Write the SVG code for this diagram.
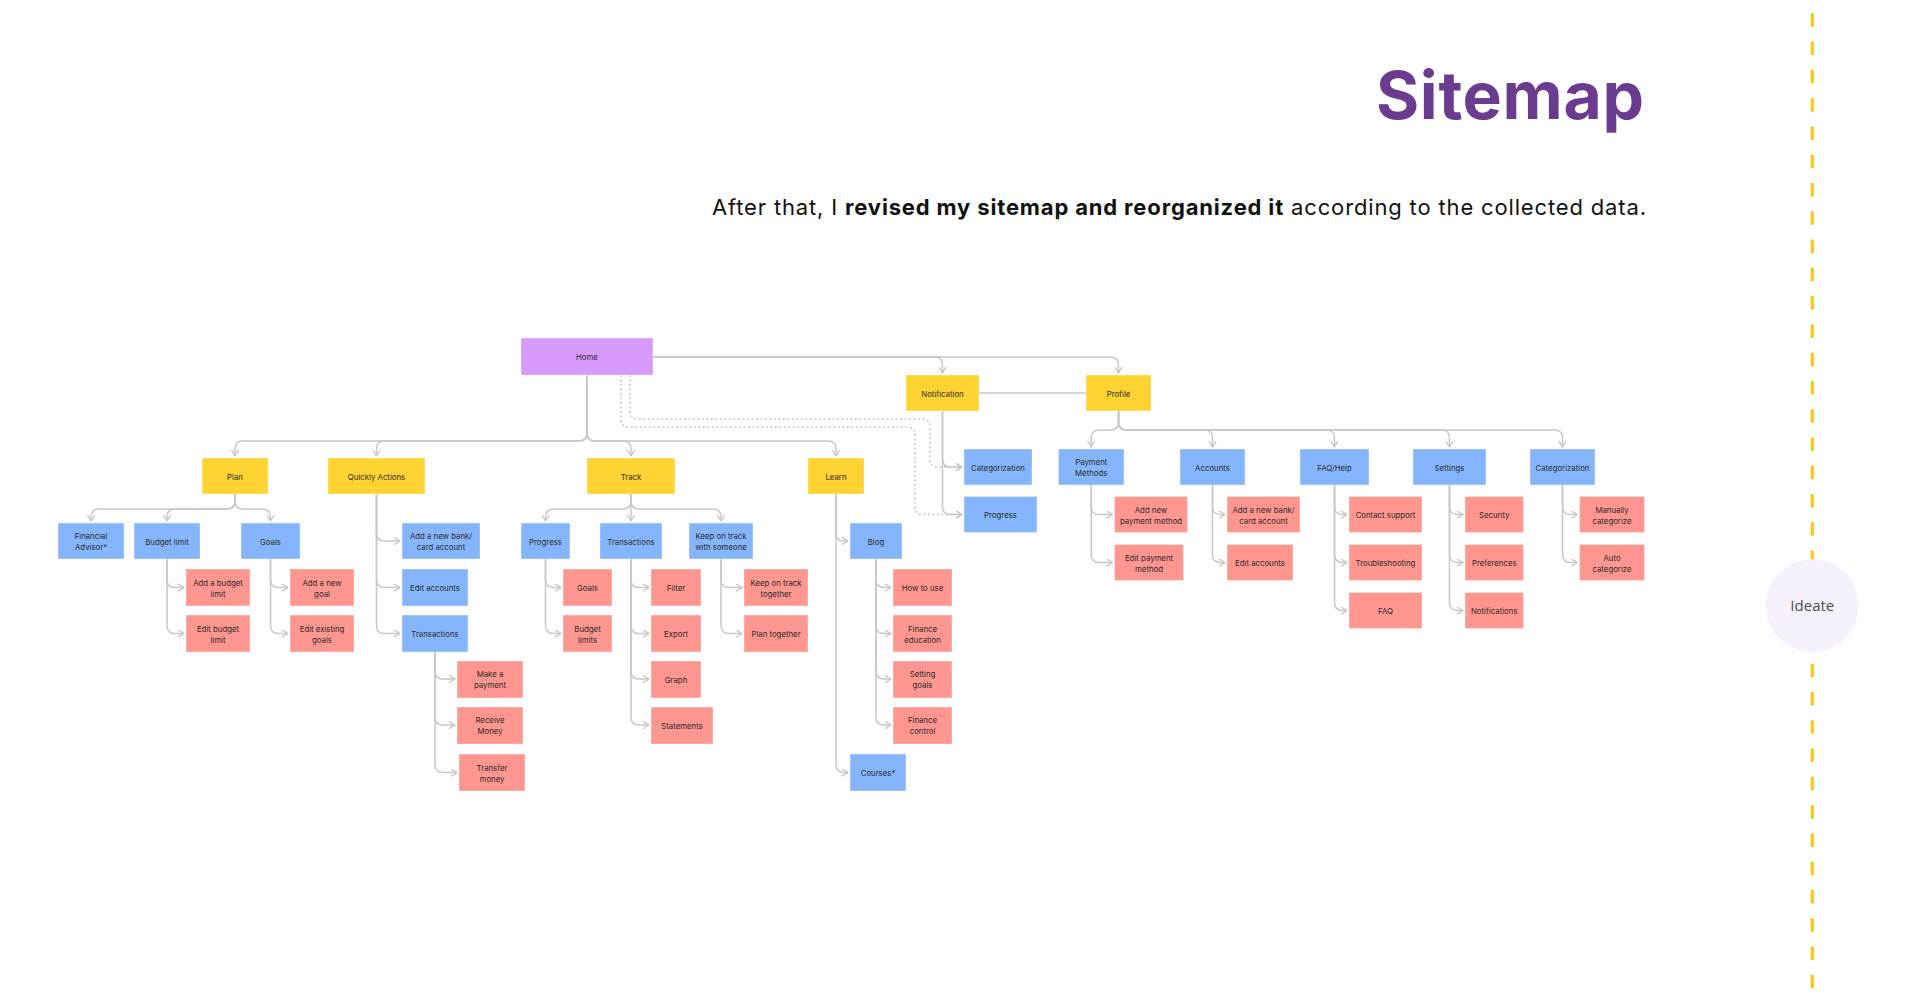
<svg xmlns="http://www.w3.org/2000/svg" width="1920" height="995" viewBox="0 0 1920 995">
<defs>
<marker id="arr" markerUnits="userSpaceOnUse" viewBox="0 0 10 10" refX="9" refY="5" markerWidth="8" markerHeight="8" orient="auto">
<path d="M2,0.8 L9,5 L2,9.2" fill="none" stroke="#C6C6C6" stroke-width="1.6" stroke-linecap="round" stroke-linejoin="round"/>
</marker>
<style>
.y{fill:#FFD332}
.b{fill:#85B6FD}
.p{fill:#FF968F}
.h{fill:#D89AFC}
rect{stroke:#ffffff;stroke-opacity:0.45;stroke-width:0.8}
.t{font-family:Inter,"Liberation Sans",sans-serif;font-size:7.8px;fill:#2c2c2c;text-anchor:middle;dominant-baseline:central}
.c{fill:none;stroke:#C8C8C8;stroke-width:1.5;marker-end:url(#arr)}
.cl{fill:none;stroke:#C8C8C8;stroke-width:1.5}
.d{fill:none;stroke:#C4C4C4;stroke-width:1.5;stroke-dasharray:2 2.5;marker-end:url(#arr)}
</style>
</defs>
<rect x="0" y="0" width="1920" height="995" fill="#ffffff" stroke="none"/>

<g id="header">
<text x="1644" y="119" text-anchor="end" font-family="Inter,'Liberation Sans',sans-serif" font-size="66" font-weight="700" fill="#6B3B8F" textLength="268" lengthAdjust="spacing">Sitemap</text>
<text x="712" y="215" font-family="Inter,'Liberation Sans',sans-serif" font-size="22" fill="#111111" textLength="934" lengthAdjust="spacing">After that, I <tspan font-weight="700">revised my sitemap and reorganized it</tspan> according to the collected data.</text>
</g>

<g id="timeline">
<line x1="1812.3" y1="13.3" x2="1812.3" y2="989" stroke="#F6C81A" stroke-width="3.2" stroke-dasharray="13.5 14.78"/>
<circle cx="1812.3" cy="605.7" r="46.5" fill="#F7F1FD"/>
<text x="1812.3" y="611" text-anchor="middle" font-family="'Open Sans',Inter,sans-serif" font-size="15" font-weight="500" fill="#4B4B4B">Ideate</text>
</g>

<g id="connectors">
<path class="c" d="M587,375 V433 Q587,441 579,441 H243 Q235,441 235,449 V456"/>
<path class="c" d="M587,375 V433 Q587,441 579,441 H384.5 Q376.5,441 376.5,449 V456"/>
<path class="c" d="M587,375 V433 Q587,441 595,441 H623 Q631,441 631,449 V456"/>
<path class="c" d="M587,375 V433 Q587,441 595,441 H828 Q836,441 836,449 V456"/>
<path class="c" d="M653,357 H934.5 Q942.5,357 942.5,365 V373"/>
<path class="c" d="M653,357 H1110.5 Q1118.5,357 1118.5,365 V373"/>
<path class="cl" d="M979,393 H1086"/>
<path class="c" d="M942.5,411 V459 Q942.5,467 950.5,467 H962"/>
<path class="c" d="M942.5,411 V506.5 Q942.5,514.5 950.5,514.5 H962"/>
<path class="d" d="M630,375 V411 Q630,419 638,419 H922 Q930,419 930,427 V459 Q930,467 938,467 H962"/>
<path class="d" d="M621,375 V419 Q621,427 629,427 H907 Q915,427 915,435 V506.5 Q915,514.5 923,514.5 H962"/>
<path class="c" d="M1118.5,411 V422 Q1118.5,430 1110.5,430 H1099.25 Q1091.25,430 1091.25,438 V447"/>
<path class="c" d="M1118.5,411 V422 Q1118.5,430 1126.5,430 H1204.5 Q1212.5,430 1212.5,438 V447"/>
<path class="c" d="M1118.5,411 V422 Q1118.5,430 1126.5,430 H1326.5 Q1334.5,430 1334.5,438 V447"/>
<path class="c" d="M1118.5,411 V422 Q1118.5,430 1126.5,430 H1441.5 Q1449.5,430 1449.5,438 V447"/>
<path class="c" d="M1118.5,411 V422 Q1118.5,430 1126.5,430 H1554.5 Q1562.5,430 1562.5,438 V447"/>
<path class="c" d="M235,494 V501 Q235,509 227,509 H99 Q91,509 91,517 V521"/>
<path class="c" d="M235,494 V501 Q235,509 227,509 H175 Q167,509 167,517 V521"/>
<path class="c" d="M235,494 V501 Q235,509 243,509 H262.5 Q270.5,509 270.5,517 V521"/>
<path class="c" d="M631,494 V501 Q631,509 623,509 H553.5 Q545.5,509 545.5,517 V521"/>
<path class="c" d="M631,494 V521"/>
<path class="c" d="M631,494 V501 Q631,509 639,509 H713 Q721,509 721,517 V521"/>
<path class="c" d="M167,559 V579.5 Q167,587.5 175,587.5 H184"/>
<path class="c" d="M167,559 V625.5 Q167,633.5 175,633.5 H184"/>
<path class="c" d="M270.5,559 V579.5 Q270.5,587.5 278.5,587.5 H288"/>
<path class="c" d="M270.5,559 V625.5 Q270.5,633.5 278.5,633.5 H288"/>
<path class="c" d="M376.5,494 V533 Q376.5,541 384.5,541 H400"/>
<path class="c" d="M376.5,494 V579.5 Q376.5,587.5 384.5,587.5 H400"/>
<path class="c" d="M376.5,494 V625.5 Q376.5,633.5 384.5,633.5 H400"/>
<path class="c" d="M435,652 V671 Q435,679 443,679 H455"/>
<path class="c" d="M435,652 V717 Q435,725 443,725 H455"/>
<path class="c" d="M435,652 V764.5 Q435,772.5 443,772.5 H457"/>
<path class="c" d="M545.5,559 V579.5 Q545.5,587.5 553.5,587.5 H561"/>
<path class="c" d="M545.5,559 V625.5 Q545.5,633.5 553.5,633.5 H561"/>
<path class="c" d="M631,559 V579.5 Q631,587.5 639,587.5 H649"/>
<path class="c" d="M631,559 V625.5 Q631,633.5 639,633.5 H649"/>
<path class="c" d="M631,559 V671 Q631,679 639,679 H649"/>
<path class="c" d="M631,559 V717 Q631,725 639,725 H649"/>
<path class="c" d="M721,559 V579.5 Q721,587.5 729,587.5 H742"/>
<path class="c" d="M721,559 V625.5 Q721,633.5 729,633.5 H742"/>
<path class="c" d="M836,494 V533 Q836,541 844,541 H848"/>
<path class="c" d="M836,494 V764.5 Q836,772.5 844,772.5 H848"/>
<path class="c" d="M876,559 V579.5 Q876,587.5 884,587.5 H891"/>
<path class="c" d="M876,559 V625.5 Q876,633.5 884,633.5 H891"/>
<path class="c" d="M876,559 V671 Q876,679 884,679 H891"/>
<path class="c" d="M876,559 V717 Q876,725 884,725 H891"/>
<path class="c" d="M1091.25,485 V506.5 Q1091.25,514.5 1099.25,514.5 H1112.5"/>
<path class="c" d="M1091.25,485 V554.5 Q1091.25,562.5 1099.25,562.5 H1112.5"/>
<path class="c" d="M1212.5,485 V506.5 Q1212.5,514.5 1220.5,514.5 H1225"/>
<path class="c" d="M1212.5,485 V554.5 Q1212.5,562.5 1220.5,562.5 H1225"/>
<path class="c" d="M1334.5,485 V506.5 Q1334.5,514.5 1342.5,514.5 H1347"/>
<path class="c" d="M1334.5,485 V554.5 Q1334.5,562.5 1342.5,562.5 H1347"/>
<path class="c" d="M1334.5,485 V602.5 Q1334.5,610.5 1342.5,610.5 H1347"/>
<path class="c" d="M1449.5,485 V506.5 Q1449.5,514.5 1457.5,514.5 H1463"/>
<path class="c" d="M1449.5,485 V554.5 Q1449.5,562.5 1457.5,562.5 H1463"/>
<path class="c" d="M1449.5,485 V602.5 Q1449.5,610.5 1457.5,610.5 H1463"/>
<path class="c" d="M1562.5,485 V506.5 Q1562.5,514.5 1570.5,514.5 H1577.5"/>
<path class="c" d="M1562.5,485 V554.5 Q1562.5,562.5 1570.5,562.5 H1577.5"/>
</g>

<g id="n-home"><rect class="h" x="521" y="338" width="132" height="37"/><text class="t" x="587" y="357">Home</text></g>
<g id="n-notification"><rect class="y" x="906" y="375" width="73" height="36"/><text class="t" x="942.5" y="393.5">Notification</text></g>
<g id="n-profile"><rect class="y" x="1086" y="375" width="65" height="36"/><text class="t" x="1118.5" y="393.5">Profile</text></g>
<g id="n-plan"><rect class="y" x="202" y="458" width="66" height="36"/><text class="t" x="235" y="476.5">Plan</text></g>
<g id="n-quickly"><rect class="y" x="328" y="458" width="97" height="36"/><text class="t" x="376.5" y="476.5">Quickly Actions</text></g>
<g id="n-track"><rect class="y" x="587" y="458" width="88" height="36"/><text class="t" x="631" y="476.5">Track</text></g>
<g id="n-learn"><rect class="y" x="808" y="458" width="56" height="36"/><text class="t" x="836" y="476.5">Learn</text></g>

<g id="n-fin-advisor"><rect class="b" x="58" y="523" width="66" height="36"/><text class="t" x="91" y="541.5"><tspan x="91" dy="-5.5">Financial</tspan><tspan x="91" dy="11">Advisor*</tspan></text></g>
<g id="n-budget-limit"><rect class="b" x="134" y="523" width="66" height="36"/><text class="t" x="167" y="541.5">Budget limit</text></g>
<g id="n-goals"><rect class="b" x="241" y="523" width="59" height="36"/><text class="t" x="270.5" y="541.5">Goals</text></g>
<g id="n-add-bank"><rect class="b" x="402" y="523" width="78" height="36"/><text class="t" x="441" y="541.5"><tspan x="441" dy="-5.5">Add a new bank/</tspan><tspan x="441" dy="11">card account</tspan></text></g>
<g id="n-edit-accounts"><rect class="b" x="402" y="569" width="66" height="37"/><text class="t" x="435" y="588">Edit accounts</text></g>
<g id="n-qa-transactions"><rect class="b" x="402" y="615" width="66" height="37"/><text class="t" x="435" y="634">Transactions</text></g>
<g id="n-track-progress"><rect class="b" x="521" y="523" width="49" height="36"/><text class="t" x="545.5" y="541.5">Progress</text></g>
<g id="n-track-transactions"><rect class="b" x="600" y="523" width="62" height="36"/><text class="t" x="631" y="541.5">Transactions</text></g>
<g id="n-keep"><rect class="b" x="689" y="523" width="64" height="36"/><text class="t" x="721" y="541.5"><tspan x="721" dy="-5.5">Keep on track</tspan><tspan x="721" dy="11">with someone</tspan></text></g>
<g id="n-blog"><rect class="b" x="850" y="523" width="52" height="36"/><text class="t" x="876" y="541.5">Blog</text></g>
<g id="n-courses"><rect class="b" x="850" y="754" width="56" height="37"/><text class="t" x="878" y="773">Courses*</text></g>

<g id="n-add-budget"><rect class="p" x="186" y="569" width="64" height="37"/><text class="t" x="218" y="588"><tspan x="218" dy="-5.5">Add a budget</tspan><tspan x="218" dy="11">limit</tspan></text></g>
<g id="n-edit-budget"><rect class="p" x="186" y="615" width="64" height="37"/><text class="t" x="218" y="634"><tspan x="218" dy="-5.5">Edit budget</tspan><tspan x="218" dy="11">limit</tspan></text></g>
<g id="n-add-goal"><rect class="p" x="290" y="569" width="64" height="37"/><text class="t" x="322" y="588"><tspan x="322" dy="-5.5">Add a new</tspan><tspan x="322" dy="11">goal</tspan></text></g>
<g id="n-edit-goals"><rect class="p" x="290" y="615" width="64" height="37"/><text class="t" x="322" y="634"><tspan x="322" dy="-5.5">Edit existing</tspan><tspan x="322" dy="11">goals</tspan></text></g>
<g id="n-make-payment"><rect class="p" x="457" y="661" width="66" height="37"/><text class="t" x="490" y="679.5"><tspan x="490" dy="-5.5">Make a</tspan><tspan x="490" dy="11">payment</tspan></text></g>
<g id="n-receive"><rect class="p" x="457" y="707" width="66" height="37"/><text class="t" x="490" y="725.5"><tspan x="490" dy="-5.5">Receive</tspan><tspan x="490" dy="11">Money</tspan></text></g>
<g id="n-transfer"><rect class="p" x="459" y="754" width="66" height="37"/><text class="t" x="492" y="773"><tspan x="492" dy="-5.5">Transfer</tspan><tspan x="492" dy="11">money</tspan></text></g>
<g id="n-track-goals"><rect class="p" x="563" y="569" width="49" height="37"/><text class="t" x="587.5" y="588">Goals</text></g>
<g id="n-budget-limits"><rect class="p" x="563" y="615" width="49" height="37"/><text class="t" x="587.5" y="634"><tspan x="587.5" dy="-5.5">Budget</tspan><tspan x="587.5" dy="11">limits</tspan></text></g>
<g id="n-filter"><rect class="p" x="651" y="569" width="50" height="37"/><text class="t" x="676" y="588">Filter</text></g>
<g id="n-export"><rect class="p" x="651" y="615" width="50" height="37"/><text class="t" x="676" y="634">Export</text></g>
<g id="n-graph"><rect class="p" x="651" y="661" width="50" height="37"/><text class="t" x="676" y="679.5">Graph</text></g>
<g id="n-statements"><rect class="p" x="651" y="707" width="62" height="37"/><text class="t" x="682" y="725.5">Statements</text></g>
<g id="n-keep-together"><rect class="p" x="744" y="569" width="64" height="37"/><text class="t" x="776" y="588"><tspan x="776" dy="-5.5">Keep on track</tspan><tspan x="776" dy="11">together</tspan></text></g>
<g id="n-plan-together"><rect class="p" x="744" y="615" width="64" height="37"/><text class="t" x="776" y="634">Plan together</text></g>
<g id="n-how-to-use"><rect class="p" x="893" y="569" width="59" height="37"/><text class="t" x="922.5" y="588">How to use</text></g>
<g id="n-finance-edu"><rect class="p" x="893" y="615" width="59" height="37"/><text class="t" x="922.5" y="634"><tspan x="922.5" dy="-5.5">Finance</tspan><tspan x="922.5" dy="11">education</tspan></text></g>
<g id="n-setting-goals"><rect class="p" x="893" y="661" width="59" height="37"/><text class="t" x="922.5" y="679.5"><tspan x="922.5" dy="-5.5">Setting</tspan><tspan x="922.5" dy="11">goals</tspan></text></g>
<g id="n-finance-control"><rect class="p" x="893" y="707" width="59" height="37"/><text class="t" x="922.5" y="725.5"><tspan x="922.5" dy="-5.5">Finance</tspan><tspan x="922.5" dy="11">control</tspan></text></g>

<g id="n-notif-categorization"><rect class="b" x="964" y="449" width="68" height="36"/><text class="t" x="998" y="467.5">Categorization</text></g>
<g id="n-notif-progress"><rect class="b" x="964" y="496.5" width="73" height="36"/><text class="t" x="1000.5" y="515">Progress</text></g>

<g id="n-payment-methods"><rect class="b" x="1058.5" y="449" width="65.5" height="36"/><text class="t" x="1091.25" y="467.5"><tspan x="1091.25" dy="-5.5">Payment</tspan><tspan x="1091.25" dy="11">Methods</tspan></text></g>
<g id="n-accounts"><rect class="b" x="1180" y="449" width="65" height="36"/><text class="t" x="1212.5" y="467.5">Accounts</text></g>
<g id="n-faq-help"><rect class="b" x="1300" y="449" width="69" height="36"/><text class="t" x="1334.5" y="467.5">FAQ/Help</text></g>
<g id="n-settings"><rect class="b" x="1413" y="449" width="73" height="36"/><text class="t" x="1449.5" y="467.5">Settings</text></g>
<g id="n-prof-categorization"><rect class="b" x="1530" y="449" width="65" height="36"/><text class="t" x="1562.5" y="467.5">Categorization</text></g>

<g id="n-add-payment"><rect class="p" x="1114.5" y="496.5" width="73" height="36"/><text class="t" x="1151" y="515"><tspan x="1151" dy="-5.5">Add new</tspan><tspan x="1151" dy="11">payment method</tspan></text></g>
<g id="n-edit-payment"><rect class="p" x="1114.5" y="544.5" width="69" height="36"/><text class="t" x="1149" y="563"><tspan x="1149" dy="-5.5">Edit payment</tspan><tspan x="1149" dy="11">method</tspan></text></g>
<g id="n-add-bank-2"><rect class="p" x="1227" y="496.5" width="73" height="36"/><text class="t" x="1263.5" y="515"><tspan x="1263.5" dy="-5.5">Add a new bank/</tspan><tspan x="1263.5" dy="11">card account</tspan></text></g>
<g id="n-edit-accounts-2"><rect class="p" x="1227" y="544.5" width="66" height="36"/><text class="t" x="1260" y="563">Edit accounts</text></g>
<g id="n-contact"><rect class="p" x="1349" y="496.5" width="73" height="36"/><text class="t" x="1385.5" y="515">Contact support</text></g>
<g id="n-trouble"><rect class="p" x="1349" y="544.5" width="73" height="36"/><text class="t" x="1385.5" y="563">Troubleshooting</text></g>
<g id="n-faq"><rect class="p" x="1349" y="592.5" width="73" height="36"/><text class="t" x="1385.5" y="611">FAQ</text></g>
<g id="n-security"><rect class="p" x="1465" y="496.5" width="58.5" height="36"/><text class="t" x="1494.25" y="515">Security</text></g>
<g id="n-preferences"><rect class="p" x="1465" y="544.5" width="58.5" height="36"/><text class="t" x="1494.25" y="563">Preferences</text></g>
<g id="n-notifications"><rect class="p" x="1465" y="592.5" width="58.5" height="36"/><text class="t" x="1494.25" y="611">Notifications</text></g>
<g id="n-manual"><rect class="p" x="1579.5" y="496.5" width="65" height="36"/><text class="t" x="1612" y="515"><tspan x="1612" dy="-5.5">Manually</tspan><tspan x="1612" dy="11">categorize</tspan></text></g>
<g id="n-auto"><rect class="p" x="1579.5" y="544.5" width="65" height="36"/><text class="t" x="1612" y="563"><tspan x="1612" dy="-5.5">Auto</tspan><tspan x="1612" dy="11">categorize</tspan></text></g>
</svg>
